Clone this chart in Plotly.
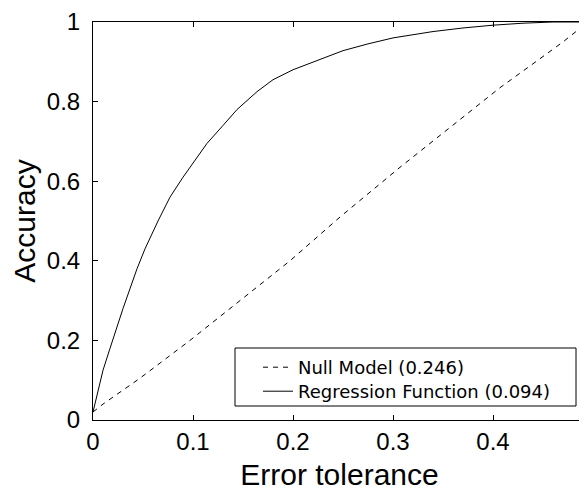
import plotly.graph_objects as go

# Data
reg_x = [0.0, 0.005, 0.010, 0.017, 0.030, 0.044, 0.052, 0.065, 0.077, 0.090, 0.100,
         0.114, 0.130, 0.144, 0.164, 0.180, 0.200, 0.225, 0.250, 0.275, 0.300,
         0.340, 0.370, 0.400, 0.430, 0.460, 0.493]
reg_y = [0.02, 0.07, 0.125, 0.18, 0.28, 0.38, 0.43, 0.50, 0.56, 0.61, 0.645,
         0.695, 0.74, 0.78, 0.825, 0.855, 0.88, 0.905, 0.928, 0.945, 0.96,
         0.976, 0.985, 0.992, 0.997, 1.0, 1.0]

null_x = [0.0, 0.010, 0.047, 0.097, 0.147, 0.197, 0.247, 0.307, 0.357, 0.407, 0.440, 0.470, 0.490]
null_y = [0.02, 0.04, 0.105, 0.20, 0.30, 0.40, 0.51, 0.635, 0.735, 0.835, 0.895, 0.95, 0.99]

x_ticks = [0, 0.1, 0.2, 0.3, 0.4]
x_tick_labels = ["0", "0.1", "0.2", "0.3", "0.4"]
y_ticks = [0, 0.2, 0.4, 0.6, 0.8, 1]
y_tick_labels = ["0", "0.2", "0.4", "0.6", "0.8", "1"]

null_name = "Null Model (0.246)"
reg_name = "Regression Function (0.094)"

fig = go.Figure()
fig.add_trace(go.Scatter(x=null_x, y=null_y, mode="lines", name=null_name,
                         legend="legend",
                         line=dict(color="black", width=1, dash="5px,5px")))
fig.add_trace(go.Scatter(x=reg_x, y=reg_y, mode="lines", name=reg_name,
                         legend="legend2",
                         line=dict(color="black", width=1)))

# The page body has an 8px margin, so the figure starts at (8, 8) in the window.
OFF = 8
W, H = 587 - OFF, 491 - OFF
L, R, T, B = 93 - OFF, 1, 22 - OFF, 71
pw, ph = W - L - R, H - T - B

def px_to_paper_x(px):
    return (px - OFF - L) / pw

def px_to_paper_y(py):
    return (OFF + H - B - py) / ph

axis_font = dict(family="Liberation Sans, Arial, sans-serif", size=24, color="black")
title_font = dict(family="Liberation Sans, Arial, sans-serif", size=30, color="black")
legend_font = dict(family="DejaVu Sans, sans-serif", size=18, color="black")

def legend_at(ytop):
    return dict(
        x=px_to_paper_x(258), y=px_to_paper_y(ytop),
        xanchor="left", yanchor="top",
        bgcolor="rgba(0,0,0,0)", borderwidth=0,
        font=legend_font,
    )

fig.update_layout(
    width=W, height=H,
    margin=dict(l=L, r=R, t=T, b=B, pad=0, autoexpand=False),
    paper_bgcolor="white", plot_bgcolor="white",
    showlegend=True,
    legend=legend_at(349),
    legend2=legend_at(373),
    xaxis=dict(
        range=[0, 0.493], tickvals=x_ticks, ticktext=x_tick_labels,
        ticks="inside", ticklen=5, tickcolor="black", tickwidth=1,
        showline=True, linecolor="black", linewidth=1, mirror="ticks",
        showgrid=False, zeroline=False, tickfont=axis_font, automargin=False,
        title=dict(text="Error tolerance", font=title_font),
    ),
    yaxis=dict(
        range=[0, 1], tickvals=y_ticks, ticktext=y_tick_labels,
        ticks="inside", ticklen=5, tickcolor="black", tickwidth=1,
        showline=True, linecolor="black", linewidth=1, mirror="ticks",
        showgrid=False, zeroline=False, tickfont=axis_font, automargin=False,
        ticklabelstandoff=7,
        title=dict(text="Accuracy", font=title_font),
    ),
    shapes=[dict(type="rect", xref="paper", yref="paper",
                 x0=px_to_paper_x(235), x1=px_to_paper_x(576),
                 y0=px_to_paper_y(406), y1=px_to_paper_y(348),
                 line=dict(color="black", width=1), fillcolor="rgba(0,0,0,0)",
                 layer="below")],
)

fig.write_html("out.html")
